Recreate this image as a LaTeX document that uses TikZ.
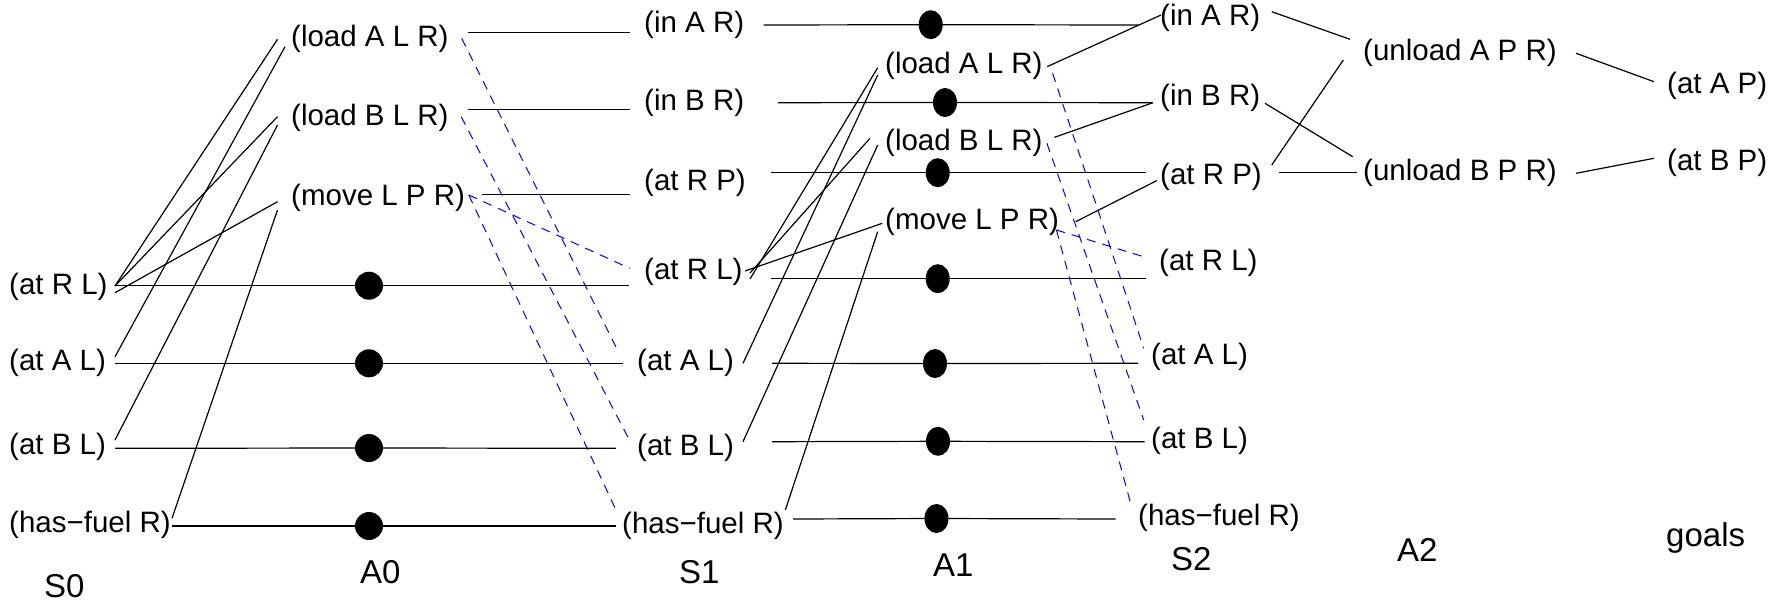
\documentclass[tikz,border=0pt]{standalone}
\usepackage{fontspec}
\setmainfont{Liberation Sans}
\usetikzlibrary{shapes.geometric}
\tikzset{
  lab/.style={anchor=west, inner sep=0pt, font=\fontsize{29.5}{32}\selectfont, text height=21.5pt, text depth=6.3pt},
  ttl/.style={anchor=base west, inner sep=0pt, font=\fontsize{33}{36}\selectfont},
  dotA/.style={circle, fill=black, draw=none, minimum size=28pt, inner sep=0pt},
  dotB/.style={ellipse, fill=black, draw=none, minimum width=24pt, minimum height=29pt, inner sep=0pt},
  edge/.style={draw=black, line width=1.2pt},
  del/.style={draw=blue, line width=1pt, dash pattern=on 9pt off 7pt}
}
\begin{document}
\begin{tikzpicture}[x=1pt,y=-1pt]
\useasboundingbox (0,0) rectangle (1785,605);
% S0
\node[lab] (s0rl) at (9,287) {(at R L)};
\node[lab] (s0al) at (9,363) {(at A L)};
\node[lab] (s0bl) at (9,447) {(at B L)};
\node[lab] (s0hf) at (9,525) {(has−fuel R)};
\node[ttl] (tS0) at (44,597) {S0};
% A0
\node[lab] (a0la) at (291,39) {(load A L R)};
\node[lab] (a0lb) at (291,117.5) {(load B L R)};
\node[lab] (a0mv) at (291,197.5) {(move L P R)};
\node[ttl] (tA0) at (360,583) {A0};
% S1
\node[lab] (s1ia) at (644,25) {(in A R)};
\node[lab] (s1ib) at (644,103) {(in B R)};
\node[lab] (s1rp) at (644,183) {(at R P)};
\node[lab] (s1rl) at (644,272) {(at R L)};
\node[lab] (s1al) at (637,363) {(at A L)};
\node[lab] (s1bl) at (637,447.5) {(at B L)};
\node[lab] (s1hf) at (622,526) {(has−fuel R)};
\node[ttl] (tS1) at (679,583) {S1};
% A1
\node[lab] (a1la) at (885,66) {(load A L R)};
\node[lab] (a1lb) at (885,143) {(load B L R)};
\node[lab] (a1mv) at (885,221.5) {(move L P R)};
\node[ttl] (tA1) at (933,576.5) {A1};
% S2
\node[lab] (s2ia) at (1160,18) {(in A R)};
\node[lab] (s2ib) at (1160,97.5) {(in B R)};
\node[lab] (s2rp) at (1160,177) {(at R P)};
\node[lab] (s2rl) at (1159,263) {(at R L)};
\node[lab] (s2al) at (1151,357) {(at A L)};
\node[lab] (s2bl) at (1151,441) {(at B L)};
\node[lab] (s2hf) at (1138,517.5) {(has−fuel R)};
\node[ttl] (tS2) at (1171,570) {S2};
% A2
\node[lab] (a2ua) at (1363,52.5) {(unload A P R)};
\node[lab] (a2ub) at (1363,172.5) {(unload B P R)};
\node[ttl] (tA2) at (1397,561.5) {A2};
% goals
\node[lab] (gap) at (1667,86) {(at A P)};
\node[lab] (gbp) at (1667,162.5) {(at B P)};
\node[ttl] (tgoals) at (1666,546.7) {goals};

% no-op dots
\node[dotA] (d0a) at (369,285.7) {};
\node[dotA] (d0b) at (369,363.3) {};
\node[dotA] (d0c) at (369,448) {};
\node[dotA] (d0d) at (369,526) {};
\node[dotB] (d1a) at (930.7,24.7) {};
\node[dotB] (d1b) at (945,102.5) {};
\node[dotB] (d1c) at (937.7,172.7) {};
\node[dotB] (d1d) at (937.7,278.7) {};
\node[dotB] (d1e) at (935,363.5) {};
\node[dotB] (d1f) at (938,441.3) {};
\node[dotB] (d1g) at (936.5,518.5) {};

% persistence S0 -> S1
\draw[edge] ([shift={(106,-1.3)}]s0rl.west) -- (d0a.center) -- ([shift={(-15,13.7)}]s1rl.west);
\draw[edge] ([shift={(106,0.3)}]s0al.west) -- (d0b.center) -- ([shift={(-14.3,0.3)}]s1al.west);
\draw[edge] ([shift={(106,1.3)}]s0bl.west) -- (d0c.center) -- ([shift={(-21,0.8)}]s1bl.west);
\draw[edge] ([shift={(163,1)}]s0hf.west) -- (d0d.center) -- ([shift={(-6,0)}]s1hf.west);
% persistence S1 -> S2
\draw[edge] ([shift={(119.7,0)}]s1ia.west) -- (d1a.center) -- ([shift={(-21.3,7)}]s2ia.west);
\draw[edge] ([shift={(134,-0.3)}]s1ib.west) -- (d1b.center) -- ([shift={(-8,5.2)}]s2ib.west);
\draw[edge] ([shift={(127,-10.3)}]s1rp.west) -- (d1c.center) -- ([shift={(-14.4,-4.3)}]s2rp.west);
\draw[edge] ([shift={(127,6.7)}]s1rl.west) -- (d1d.center) -- ([shift={(-13.4,15.7)}]s2rl.west);
\draw[edge] ([shift={(135,0.3)}]s1al.west) -- (d1e.center) -- ([shift={(-13,6.3)}]s2al.west);
\draw[edge] ([shift={(135,-5.8)}]s1bl.west) -- (d1f.center) -- ([shift={(-6.3,0.7)}]s2bl.west);
\draw[edge] ([shift={(171,-7)}]s1hf.west) -- (d1g.center) -- ([shift={(-22.3,1.5)}]s2hf.west);

% add effects A0 -> S1
\draw[edge] ([shift={(177,-6.7)}]a0la.west) -- ([shift={(-14.3,7.3)}]s1ia.west);
\draw[edge] ([shift={(176.7,-8.2)}]a0lb.west) -- ([shift={(-14.3,6.3)}]s1ib.west);
\draw[edge] ([shift={(191,-3.2)}]a0mv.west) -- ([shift={(-14.3,11.3)}]s1rp.west);
% add effects A1 -> S2
\draw[edge] ([shift={(162,0.7)}]a1la.west) -- ([shift={(1,-3)}]s2ia.west);
\draw[edge] ([shift={(169.5,-5.7)}]a1lb.west) -- ([shift={(-7,5.2)}]s2ib.west);
\draw[edge] ([shift={(190.6,0.2)}]a1mv.west) -- ([shift={(-3,3.5)}]s2rp.west);

% preconditions S0 -> A0
\draw[edge] ([shift={(106,-1)}]s0rl.west) -- ([shift={(-13.5,0.3)}]a0la.west);
\draw[edge] ([shift={(106,-6.3)}]s0al.west) -- ([shift={(-6,7.7)}]a0la.west);
\draw[edge] ([shift={(106,-1)}]s0rl.west) -- ([shift={(-13.5,-0.8)}]a0lb.west);
\draw[edge] ([shift={(106,-7)}]s0bl.west) -- ([shift={(-13.5,7.5)}]a0lb.west);
\draw[edge] ([shift={(106,5.7)}]s0rl.west) -- ([shift={(-13.5,4.2)}]a0mv.west);
\draw[edge] ([shift={(163,-6.7)}]s0hf.west) -- ([shift={(-13.5,12.5)}]a0mv.west);
% preconditions S1 -> A1
\draw[edge] ([shift={(106,7)}]s1rl.west) -- ([shift={(-7.3,1.7)}]a1la.west);
\draw[edge] ([shift={(106,0.3)}]s1al.west) -- ([shift={(-7.3,9)}]a1la.west);
\draw[edge] ([shift={(106,1)}]s1rl.west) -- ([shift={(-15,-4.7)}]a1lb.west);
\draw[edge] ([shift={(106,-5.8)}]s1bl.west) -- ([shift={(-7.3,2)}]a1lb.west);
\draw[edge] ([shift={(101,-1)}]s1rl.west) -- ([shift={(-2.7,1.8)}]a1mv.west);
\draw[edge] ([shift={(163.3,-16)}]s1hf.west) -- ([shift={(-7.3,10.2)}]a1mv.west);

% delete effects (dashed blue)
\draw[del] ([shift={(170.7,-0.7)}]a0la.west) -- ([shift={(-19,-12)}]s1al.west);
\draw[del] ([shift={(170.2,-0.8)}]a0lb.west) -- ([shift={(-7.6,-7.5)}]s1bl.west);
\draw[del] ([shift={(177.8,-2.5)}]a0mv.west) -- ([shift={(-6,-16)}]s1hf.west);
\draw[del] ([shift={(177.8,-2.5)}]a0mv.west) -- ([shift={(-14.3,-3.7)}]s1rl.west);
\draw[del] ([shift={(167.6,7.3)}]a1la.west) -- ([shift={(-7.3,-8.7)}]s2al.west);
\draw[del] ([shift={(161.9,0.3)}]a1lb.west) -- ([shift={(-7.3,-21)}]s2bl.west);
\draw[del] ([shift={(171.4,8.5)}]a1mv.west) -- ([shift={(-7.4,-14.2)}]s2hf.west);
\draw[del] ([shift={(171.4,8.5)}]a1mv.west) -- ([shift={(-13.4,-5.7)}]s2rl.west);

% preconditions S2 -> A2
\draw[edge] ([shift={(111.7,-6.3)}]s2ia.west) -- ([shift={(-13,-13.2)}]a2ua.west);
\draw[edge] ([shift={(105,5.8)}]s2ib.west) -- ([shift={(-10.3,-15.8)}]a2ub.west);
\draw[edge] ([shift={(111.7,-12)}]s2rp.west) -- ([shift={(-19.7,7.5)}]a2ua.west);
\draw[edge] ([shift={(119.3,-4.3)}]s2rp.west) -- ([shift={(-6.3,0.2)}]a2ub.west);
% A2 -> goals
\draw[edge] ([shift={(213,0.8)}]a2ua.west) -- ([shift={(-13,-4.3)}]gap.west);
\draw[edge] ([shift={(213,0.8)}]a2ub.west) -- ([shift={(-13,-4.2)}]gbp.west);
\end{tikzpicture}
\end{document}
